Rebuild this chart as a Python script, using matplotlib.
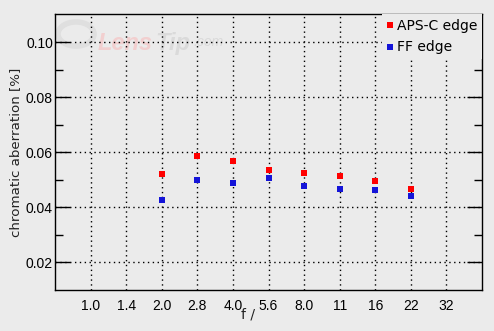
import matplotlib.pyplot as plt
from matplotlib.patches import Circle

apertures = ["1.0", "1.4", "2.0", "2.8", "4.0", "5.6", "8.0", "11", "16", "22", "32"]
aps_c_x = ["2.0", "2.8", "4.0", "5.6", "8.0", "11", "16", "22"]
aps_c_edge = [0.0520, 0.0585, 0.0567, 0.0535, 0.0524, 0.0513, 0.0495, 0.0465]
ff_x = ["2.0", "2.8", "4.0", "5.6", "8.0", "11", "16", "22"]
ff_edge = [0.0425, 0.0498, 0.0487, 0.0505, 0.0476, 0.0465, 0.0462, 0.0440]

bg = "#ebebeb"
plt.rcParams["font.family"] = "DejaVu Sans"

fig = plt.figure(figsize=(4.94, 3.31), dpi=100, facecolor=bg)
ax = fig.add_axes([55 / 494, 41 / 331, 427 / 494, 276 / 331], facecolor=bg)

# faint LensTip watermark, behind the (transparent) axes so the grid runs over it
fig.patches.append(Circle((76 / 494, 1 - 34 / 331), 18 / 494, transform=fig.transFigure,
                          fill=False, lw=4, ec="#dcdcdc", alpha=0.8, zorder=-1))
fig.text(98 / 494, 1 - 50 / 331, "Lens", fontsize=17, fontfamily="Liberation Sans",
         fontstyle="italic", fontweight="bold", color="#f2cfcf", zorder=-1)
fig.text(155 / 494, 1 - 50 / 331, "Tip", fontsize=17, fontfamily="Liberation Sans",
         fontstyle="italic", fontweight="bold", color="#dadada", zorder=-1)
fig.text(193 / 494, 1 - 46 / 331, ".com", fontsize=10, fontfamily="Liberation Sans",
         fontstyle="italic", color="#dadada", zorder=-1)

pos = {a: i for i, a in enumerate(apertures)}
ax.plot([pos[a] for a in aps_c_x], aps_c_edge, "s", color="#ff0000", ms=4.3,
        mew=0, ls="none", label="APS-C edge", zorder=3)
ax.plot([pos[a] for a in ff_x], ff_edge, "s", color="#1414d8", ms=4.3,
        mew=0, ls="none", label="FF edge", zorder=3)

ax.set_xlim(-1, 11)
ax.set_ylim(0.0099, 0.1103)
ax.set_xticks(range(len(apertures)))
ax.set_xticklabels(apertures, fontfamily="Liberation Sans", fontsize=10)
ax.set_yticks([0.02, 0.04, 0.06, 0.08, 0.10])
ax.set_yticklabels(["0.02", "0.04", "0.06", "0.08", "0.10"],
                   fontfamily="Liberation Sans", fontsize=10)
ax.set_yticks([0.03, 0.05, 0.07, 0.09], minor=True)

ax.tick_params(axis="x", length=0, pad=6.5)
ax.tick_params(axis="y", which="major", direction="in", length=11, width=1,
               right=True, pad=1.5)
ax.tick_params(axis="y", which="minor", direction="in", length=6, width=1,
               right=True)

ax.grid(True, which="major", color="black", linestyle=(0, (1, 2.5)), linewidth=1)
ax.set_axisbelow(True)
ax.patch.set_alpha(0)
for s in ax.spines.values():
    s.set_linewidth(1)

ax.set_ylabel("chromatic aberration [%]", fontsize=9.6, color="#222222")
ax.yaxis.set_label_coords(-33 / 427, 0.5)
ax.set_xlabel("f /", fontsize=10, color="#222222")
ax.xaxis.set_label_coords(0.452, -0.065)

leg = ax.legend(loc="upper right", fontsize=10, frameon=True, facecolor=bg,
                edgecolor="none", framealpha=1, handlelength=0.4,
                handletextpad=0.3, borderaxespad=0.0, borderpad=0.35,
                labelspacing=0.55, markerscale=0.9)
leg.get_frame().set_boxstyle("square", pad=0)

fig.savefig("out.png", dpi=100, facecolor=bg)
